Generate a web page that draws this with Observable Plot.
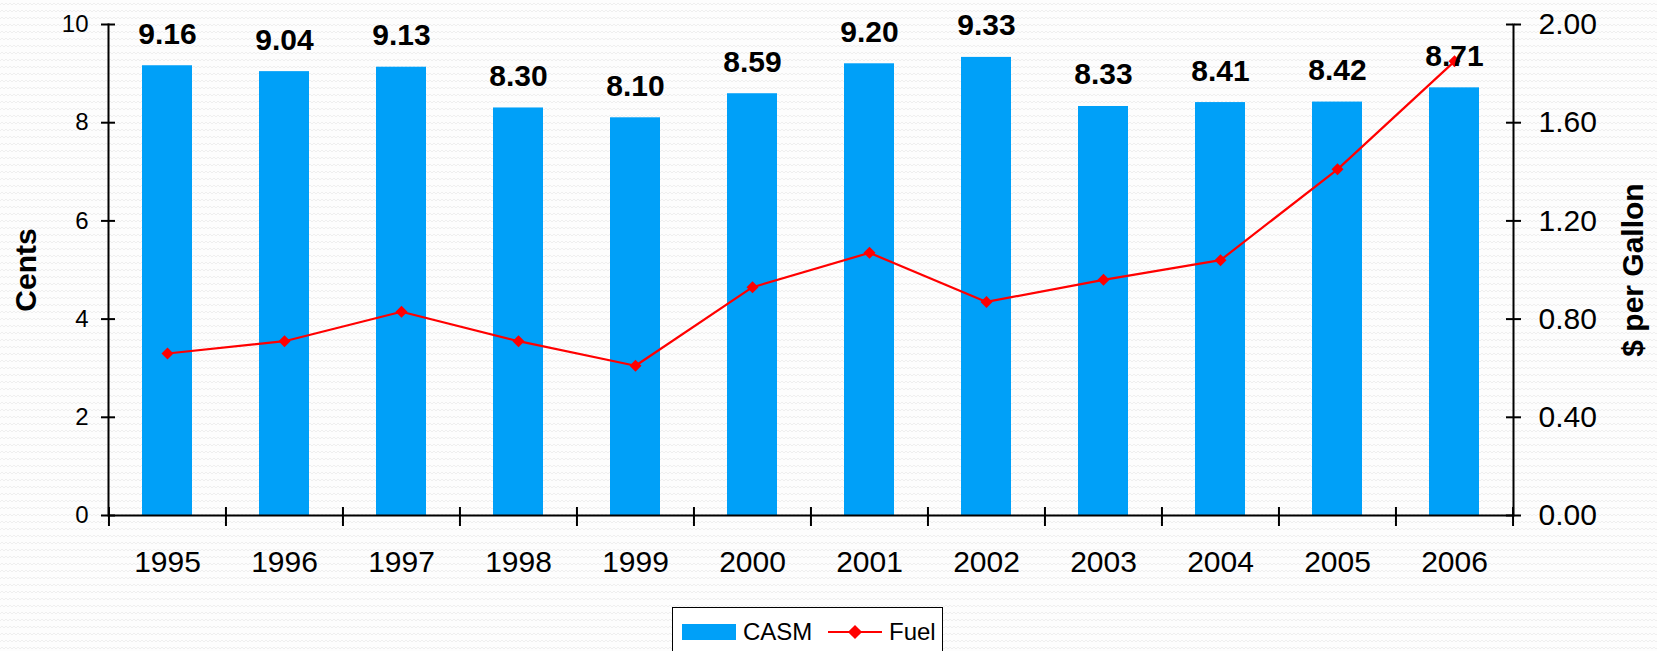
<!DOCTYPE html>
<html>
<head>
<meta charset="utf-8">
<script src="https://cdn.jsdelivr.net/npm/d3@7"></script>
<script src="https://cdn.jsdelivr.net/npm/@observablehq/plot@0.6"></script>
<style>
  html, body { margin: 0; padding: 0; }
  body {
    width: 1657px; height: 651px; overflow: hidden;
    font-family: "Liberation Sans", Arial, sans-serif;
    background-color: #fdfdfd;
    background-image: url("data:image/svg+xml;utf8,<svg xmlns='http://www.w3.org/2000/svg' width='8' height='7'><path d='M0 5 L2 3 L4 5 L6 3 L8 5' fill='none' stroke='%23efefef' stroke-width='1'/></svg>");
  }
  #chart svg { display: block; }
  #legend {
    position: absolute; left: 672px; top: 607px;
    width: 271px; height: 60px;
    border: 1.5px solid #000; background: #fff;
    box-sizing: border-box;
    font-size: 24px; color: #000;
  }
  #legend .item { position: absolute; top: 10px; display: flex; align-items: center; height: 28px; }
</style>
</head>
<body>
<div id="chart"></div>
<div id="legend">
  <div class="item" style="left:9px"><svg width="54" height="16" style="margin-right:7px"><rect width="54" height="16" fill="#00a0f8"/></svg><span>CASM</span></div>
  <div class="item" style="left:155px"><svg width="54" height="16" style="margin-right:7px"><line x1="0" y1="8" x2="54" y2="8" stroke="#ff0000" stroke-width="2"/><rect x="22" y="3" width="10" height="10" fill="#ff0000" transform="rotate(45 27 8)"/></svg><span>Fuel</span></div>
</div>
<script>
const years = ["1995","1996","1997","1998","1999","2000","2001","2002","2003","2004","2005","2006"];
const casm = [9.16, 9.04, 9.13, 8.30, 8.10, 8.59, 9.20, 9.33, 8.33, 8.41, 8.42, 8.71];
const fuel = [0.66, 0.71, 0.83, 0.71, 0.61, 0.93, 1.07, 0.87, 0.96, 1.04, 1.41, 1.85];
const leftTicks = [0, 2, 4, 6, 8, 10];
const rightTicks = [0, 0.4, 0.8, 1.2, 1.6, 2.0];

const data = years.map((y, i) => ({year: y, casm: casm[i], fuel: fuel[i]}));
const ratio = d3.max(leftTicks) / d3.max(rightTicks);

const W = 1657, H = 600;
const mL = 108, mR = 144, mT = 24, mB = 85;
const plotW = W - mL - mR, plotH = H - mT - mB;
const step = plotW / years.length;
const font = "Liberation Sans, Arial, sans-serif";

const chart = Plot.plot({
  width: W, height: H,
  marginLeft: mL, marginRight: mR, marginTop: mT, marginBottom: mB,
  style: {background: "transparent", fontFamily: font, color: "#000", overflow: "visible"},
  x: {domain: years, paddingInner: 0.57, paddingOuter: 0.285, label: null},
  y: {domain: [0, d3.max(leftTicks)], label: null},
  marks: [
    Plot.barY(data, {x: "year", y: "casm", fill: "#00a0f8"}),
    Plot.line(data, {x: "year", y: d => d.fuel * ratio, stroke: "#ff0000", strokeWidth: 2.2}),
    Plot.dot(data, {x: "year", y: d => d.fuel * ratio, symbol: "square", r: 4.8, fill: "#ff0000", rotate: 45}),
    Plot.text(data, {x: "year", y: "casm", text: d => d.casm.toFixed(2), dy: -22, lineAnchor: "bottom", fontSize: 30, fontWeight: "bold", fill: "#000"}),
    // axis lines
    Plot.ruleY([0], {stroke: "#000", strokeWidth: 2}),
    Plot.frame({anchor: "left", stroke: "#000", strokeWidth: 2}),
    Plot.frame({anchor: "right", stroke: "#000", strokeWidth: 2}),
    // left axis
    Plot.axisY({ticks: leftTicks, tickSize: 7, tickPadding: 13, fontSize: 24, strokeWidth: 2, label: null}),
    Plot.ruleY(leftTicks, {y: d => d, insetRight: plotW - 7, stroke: "#000", strokeWidth: 2}),
    // right axis
    Plot.axisY({anchor: "right", ticks: rightTicks.map(v => v * ratio), tickFormat: v => (v / ratio).toFixed(2), tickSize: 7, tickPadding: 18, fontSize: 30, strokeWidth: 2, label: null}),
    Plot.ruleY(rightTicks, {y: d => d * ratio, insetLeft: plotW - 7, stroke: "#000", strokeWidth: 2}),
    // x axis
    Plot.axisX({tickSize: 0, tickPadding: 35, fontSize: 30, label: null}),
    Plot.tickX(years, {x: d => d, dx: -step / 2, insetTop: plotH - 19, dy: 11, stroke: "#000", strokeWidth: 2}),
    Plot.tickX(years.slice(-1), {x: d => d, dx: step / 2, insetTop: plotH - 19, dy: 11, stroke: "#000", strokeWidth: 2}),
    // axis titles
    Plot.text(["Cents"], {frameAnchor: "left", textAnchor: "middle", dx: -82, rotate: -90, fontSize: 30, fontWeight: "bold", fill: "#000"}),
    Plot.text(["$ per Gallon"], {frameAnchor: "right", textAnchor: "middle", dx: 120, rotate: -90, fontSize: 30, fontWeight: "bold", fill: "#000"})
  ]
});
document.getElementById("chart").appendChild(chart);
</script>
</body>
</html>
